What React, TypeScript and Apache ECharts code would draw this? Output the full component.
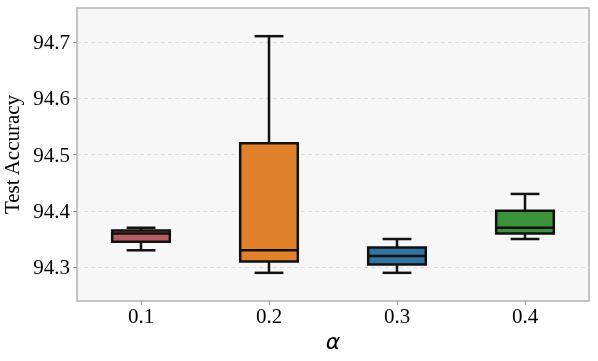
import React, { useEffect, useRef } from "react";
import * as echarts from "echarts";

const categories = ["0.1", "0.2", "0.3", "0.4"];
// [min, q1, median, q3, max]
const boxStats = [
  [94.33, 94.345, 94.36, 94.365, 94.37],
  [94.29, 94.31, 94.33, 94.52, 94.71],
  [94.29, 94.305, 94.32, 94.335, 94.35],
  [94.35, 94.36, 94.37, 94.4, 94.43],
];
const boxColors = ["#b55d60", "#e1812c", "#3274a1", "#3b923b"];
const yTicks = [94.3, 94.4, 94.5, 94.6, 94.7];

export default function App() {
  const ref = useRef<HTMLDivElement>(null);
  useEffect(() => {
    if (!ref.current) return;
    const chart = echarts.init(ref.current, null, { renderer: "svg" });
    const serif = "'Liberation Serif', 'Times New Roman', serif";
    chart.setOption({
      animation: false,
      grid: {
        left: 77,
        right: 9,
        top: 8,
        bottom: 60,
        containLabel: false,
        outerBoundsMode: "none",
        show: true,
        backgroundColor: "#f7f7f7",
        borderColor: "#b3b3b3",
        borderWidth: 1.5,
      },
      xAxis: {
        type: "category",
        data: categories,
        boundaryGap: true,
        name: "α",
        nameLocation: "middle",
        nameGap: 23,
        nameTextStyle: {
          fontFamily: "'DejaVu Sans', sans-serif",
          fontStyle: "italic",
          fontSize: 22,
          color: "#000",
        },
        axisLine: { show: false },
        axisTick: {
          show: true,
          alignWithLabel: true,
          length: 4,
          lineStyle: { color: "#999", width: 1 },
        },
        axisLabel: {
          fontFamily: serif,
          fontSize: 21,
          color: "#000",
          margin: 4,
        },
        splitLine: { show: false },
      },
      yAxis: {
        type: "value",
        min: 94.24,
        max: 94.76,
        name: "Test Accuracy",
        nameLocation: "middle",
        nameGap: 48,
        nameTextStyle: { fontFamily: serif, fontSize: 21, color: "#000" },
        axisLine: { show: false },
        axisTick: {
          show: true,
          length: 4,
          customValues: yTicks,
          lineStyle: { color: "#999", width: 1 },
        },
        axisLabel: {
          fontFamily: serif,
          fontSize: 21,
          color: "#000",
          margin: 7,
          customValues: yTicks,
          formatter: (v: number) => v.toFixed(1),
        },
        splitLine: {
          show: true,
          lineStyle: { color: "#dedede", type: [4, 3], width: 1 },
        },
      },
      series: [
        {
          type: "custom",
          data: boxStats.map((s, i) => [i, ...s]),
          encode: { x: 0, y: [1, 2, 3, 4, 5] },
          renderItem: (params: any, api: any) => {
            const idx = api.value(0);
            const vals = [1, 2, 3, 4, 5].map((d) => api.value(d));
            const pts = vals.map((v) => api.coord([idx, v]));
            const cx = pts[0][0];
            const [pMin, pQ1, pMed, pQ3, pMax] = pts.map((p: number[]) => p[1]);
            const bw = api.size([1, 0])[0] * 0.45;
            const cw = bw / 2;
            const stroke = { stroke: "#111", lineWidth: 2.5 };
            return {
              type: "group",
              children: [
                { type: "line", shape: { x1: cx, y1: pMax, x2: cx, y2: pQ3 }, style: stroke },
                { type: "line", shape: { x1: cx, y1: pQ1, x2: cx, y2: pMin }, style: stroke },
                { type: "line", shape: { x1: cx - cw / 2, y1: pMax, x2: cx + cw / 2, y2: pMax }, style: stroke },
                { type: "line", shape: { x1: cx - cw / 2, y1: pMin, x2: cx + cw / 2, y2: pMin }, style: stroke },
                {
                  type: "rect",
                  shape: { x: cx - bw / 2, y: pQ3, width: bw, height: pQ1 - pQ3 },
                  style: { fill: boxColors[idx], stroke: "#111", lineWidth: 2.5 },
                },
                { type: "line", shape: { x1: cx - bw / 2, y1: pMed, x2: cx + bw / 2, y2: pMed }, style: stroke },
              ],
            };
          },
        },
      ],
    });
    return () => chart.dispose();
  }, []);
  return (
    <div
      ref={ref}
      style={{ position: "fixed", left: 0, top: 0, width: 598, height: 361 }}
    />
  );
}
